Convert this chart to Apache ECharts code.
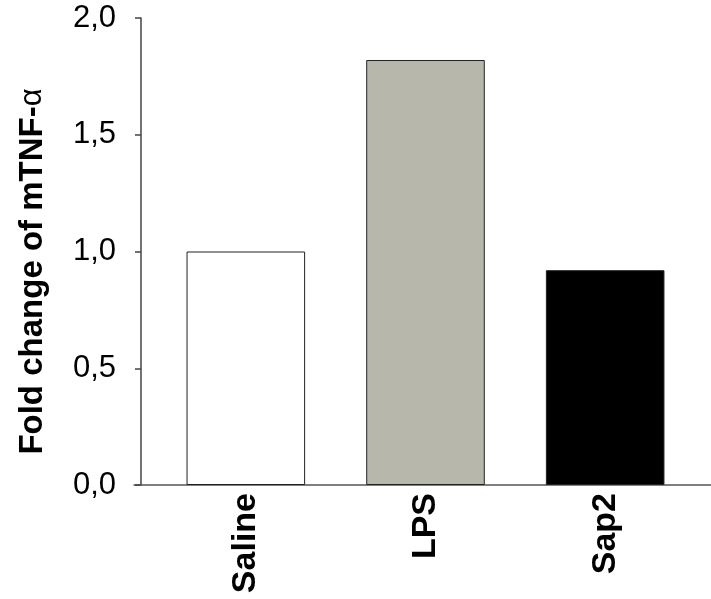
<!DOCTYPE html>
<html><head><meta charset="utf-8">
<script src="https://cdn.jsdelivr.net/npm/echarts@6/dist/echarts.min.js"></script>
<style>html,body{margin:0;padding:0;background:#fff}#c{width:711px;height:599px}</style>
</head><body><div id="c"></div>
<script>
const categories = ['Saline', 'LPS', 'Sap2'];
const foldChange = [1.0, 1.82, 0.92];
const yTicks = [0, 0.5, 1.0, 1.5, 2.0];
const barColors = ['#ffffff', '#b7b8ab', '#000000'];

const chart = echarts.init(document.getElementById('c'), null, {renderer: 'canvas'});
const font = 'Liberation Sans, Arial, sans-serif';
chart.setOption({
  animation: false,
  backgroundColor: '#fff',
  grid: [
    {left: 156, right: 16, top: 18, bottom: 114},
    {left: 134, right: 0, top: 18, bottom: 114}
  ],
  xAxis: [
    {
      type: 'category', gridIndex: 0, data: categories,
      axisLine: {show: false}, axisTick: {show: false},
      axisLabel: {rotate: 90, margin: 8, color: '#000', fontFamily: font, fontWeight: 'bold', fontSize: 34}
    },
    {
      type: 'value', gridIndex: 1, min: 0, max: 1,
      axisLine: {show: true, onZero: false, lineStyle: {color: '#555', width: 1.5}},
      axisTick: {show: false}, axisLabel: {show: false}, splitLine: {show: false}
    }
  ],
  yAxis: [
    {
      type: 'value', gridIndex: 0, min: yTicks[0], max: yTicks[yTicks.length - 1], interval: 0.5,
      offset: 15,
      axisLine: {show: true, lineStyle: {color: '#444', width: 1.5}},
      axisTick: {show: true, length: 6, lineStyle: {color: '#444', width: 1.5}},
      splitLine: {show: false},
      axisLabel: {
        margin: 25, color: '#000', fontFamily: font, fontSize: 31,
        formatter: v => v.toFixed(1).replace('.', ',')
      },
      name: '{b|Fold change of mTNF-}{a|α}',
      nameLocation: 'middle', nameGap: 92, nameRotate: 90,
      nameTextStyle: {
        padding: [0, 40, 0, 0],
        rich: {
          b: {fontFamily: font, fontWeight: 'bold', fontSize: 33, color: '#000'},
          a: {fontFamily: font, fontWeight: 'normal', fontSize: 31, color: '#000'}
        }
      }
    },
    {type: 'value', gridIndex: 1, show: false, min: 0, max: 1}
  ],
  series: [{
    type: 'bar', xAxisIndex: 0, yAxisIndex: 0,
    barWidth: '66%',
    data: foldChange.map((v, i) => ({value: v, itemStyle: {color: barColors[i], borderColor: '#222', borderWidth: 1}}))
  }]
});
</script></body></html>
